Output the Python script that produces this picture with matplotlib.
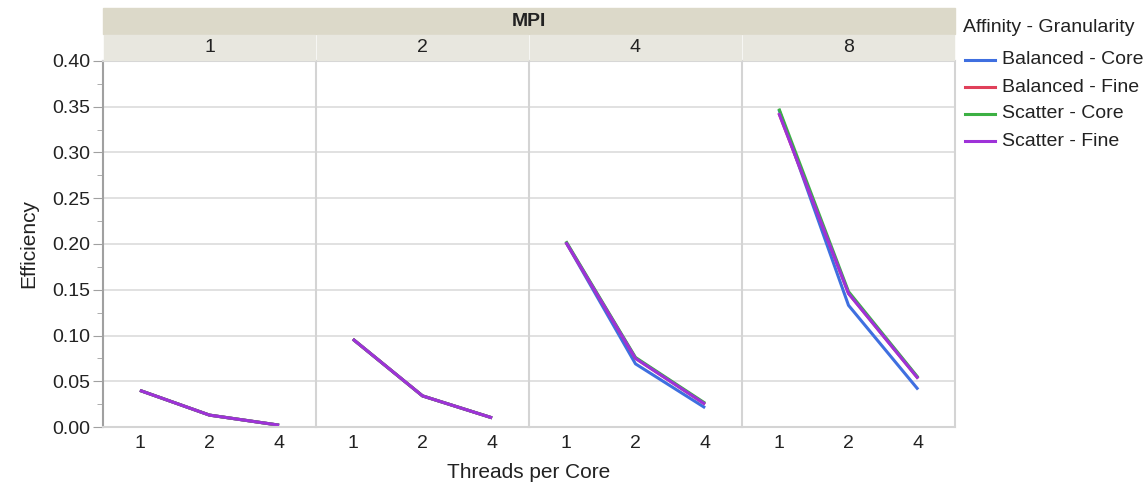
import matplotlib.pyplot as plt
from matplotlib.patches import Rectangle
from matplotlib.lines import Line2D
import numpy as np

plt.rcParams['font.family'] = ['Liberation Sans', 'DejaVu Sans']

# data (efficiency per MPI panel, threads per core 1/2/4)
mpi_values = ['1', '2', '4', '8']
threads = ['1', '2', '4']
series_names = ['Balanced - Core', 'Balanced - Fine', 'Scatter - Core', 'Scatter - Fine']
balanced_core = [[0.040, 0.013, 0.002], [0.096, 0.034, 0.010],
                 [0.202, 0.069, 0.021], [0.347, 0.133, 0.041]]
balanced_fine = [[0.040, 0.013, 0.002], [0.096, 0.034, 0.010],
                 [0.202, 0.075, 0.025], [0.343, 0.146, 0.053]]
scatter_core = [[0.040, 0.013, 0.002], [0.096, 0.034, 0.010],
                [0.203, 0.076, 0.026], [0.348, 0.148, 0.054]]
scatter_fine = [[0.040, 0.013, 0.002], [0.096, 0.034, 0.010],
                [0.202, 0.075, 0.025], [0.343, 0.146, 0.053]]
colors = ['#3f6fe0', '#e0405a', '#3cb043', '#9e32d8']
all_series = [balanced_core, balanced_fine, scatter_core, scatter_fine]

W, H = 1146, 487
fig = plt.figure(figsize=(W / 100, H / 100), dpi=100)

left, right = 103, 955
top, bottom = 61, 427
pw = (right - left) / 4
text_col = '#222222'
fs = 14

def fx(px):
    return px / W

def fy(py):
    return 1 - py / H

# header bands
fig.patches.append(Rectangle((fx(left), fy(34)), fx(right - left), (34 - 8) / H,
                             transform=fig.transFigure, color='#dcd9c9', zorder=0))
fig.text(fx((left + right) / 2), fy(21), 'MPI', ha='center', va='center',
         fontsize=fs, fontweight='bold', color=text_col)

xs = np.arange(len(threads))
for i, mpi in enumerate(mpi_values):
    x0 = left + i * pw
    fig.patches.append(Rectangle((fx(x0 + 1), fy(60)), fx(pw - 2), (60 - 35) / H,
                                 transform=fig.transFigure, color='#e8e7df', zorder=0))
    fig.text(fx(x0 + pw / 2), fy(47.5), mpi, ha='center', va='center',
             fontsize=fs, color=text_col)

    ax = fig.add_axes([fx(x0), fy(bottom), fx(pw), (bottom - top) / H])
    for vals, c in zip(all_series, colors):
        ax.plot(xs, vals[i], color=c, lw=2.2, solid_capstyle='butt')
    ax.set_xlim(-0.53, 2.53)
    ax.set_ylim(0, 0.40)
    ax.set_yticks(np.arange(0, 0.401, 0.05))
    ax.grid(axis='y', color='#dcdcdc', lw=1.2)
    ax.set_axisbelow(True)
    ax.set_xticks(xs)
    ax.set_xticklabels(threads, fontsize=fs, color=text_col)
    ax.tick_params(axis='x', length=0, pad=6)
    for s in ax.spines.values():
        s.set_color('#d4d4d4')
        s.set_linewidth(1.5)
    if i < len(mpi_values) - 1:
        ax.spines['right'].set_visible(False)
    if i == 0:
        ax.set_yticks(np.arange(0.025, 0.4, 0.05), minor=True)
        ax.set_yticklabels(['%.2f' % v for v in np.arange(0, 0.401, 0.05)],
                           fontsize=fs, color=text_col)
        ax.tick_params(axis='y', which='major', length=7, color='#a0a0a0', pad=2)
        ax.tick_params(axis='y', which='minor', length=4, color='#a0a0a0')
        ax.spines['left'].set_color('#a0a0a0')
        ax.set_ylabel('Efficiency', fontsize=15, color=text_col, labelpad=10)
    else:
        ax.tick_params(axis='y', which='both', length=0, labelleft=False)

fig.text(fx((left + right) / 2), fy(472), 'Threads per Core', ha='center', va='center',
         fontsize=15, color=text_col)

# legend
fig.text(fx(963), fy(27), 'Affinity - Granularity', ha='left', va='center',
         fontsize=fs, color=text_col)
for k, (name, c) in enumerate(zip(series_names, colors)):
    yy = 60 + k * 27
    fig.lines.append(Line2D([fx(965), fx(995)], [fy(yy), fy(yy)], color=c, lw=2.2,
                            transform=fig.transFigure))
    fig.text(fx(1002), fy(yy), name, ha='left', va='center', fontsize=fs, color=text_col)

fig.savefig('out.png', dpi=100)
